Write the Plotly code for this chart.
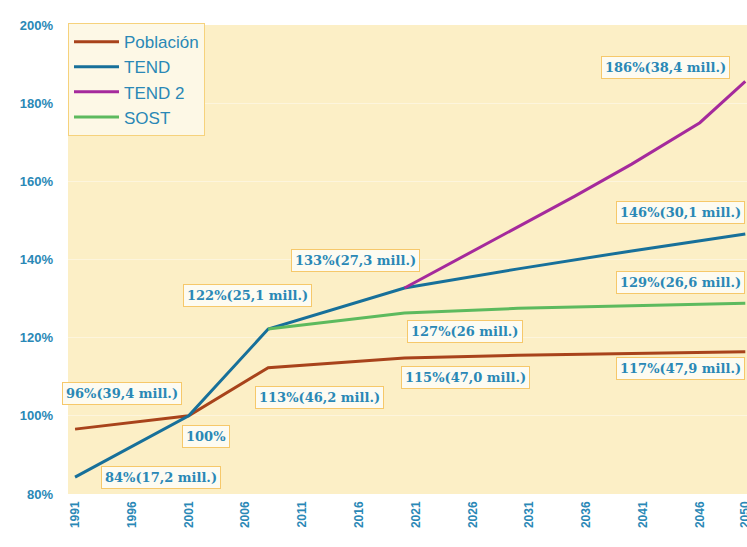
import plotly.graph_objects as go

# años y series (en % respecto a 2001)
years_pob = [1991, 2001, 2008, 2020, 2030, 2040, 2050]
poblacion = [96.6, 100, 112.3, 114.8, 115.5, 116.0, 116.4]

years_tend = [1991, 2001, 2008, 2020, 2030, 2040, 2050]
tend = [84.3, 100, 122.2, 132.7, 137.6, 142.2, 146.5]

years_tend2 = [2020, 2025, 2030, 2035, 2040, 2046, 2050]
tend2 = [132.7, 140.6, 148.3, 156.2, 164.4, 175.0, 185.6]

years_sost = [2008, 2020, 2030, 2040, 2050]
sost = [122.2, 126.3, 127.5, 128.2, 128.8]

tick_years = [1991, 1996, 2001, 2006, 2011, 2016, 2021, 2026, 2031, 2036, 2041, 2046, 2050]
y_ticks = [80, 100, 120, 140, 160, 180, 200]

# etiquetas: texto, año, valor
etiquetas = [
    ("96%(39,4 mill.)", 1995.1, 105.8),
    ("100%", 2002.5, 94.8),
    ("84%(17,2 mill.)", 1998.6, 84.3),
    ("113%(46,2 mill.)", 2012.5, 104.6),
    ("122%(25,1 mill.)", 2006.2, 130.9),
    ("133%(27,3 mill.)", 2015.7, 139.8),
    ("127%(26 mill.)", 2025.3, 121.7),
    ("115%(47,0 mill.)", 2025.4, 109.7),
    ("117%(47,9 mill.)", 2044.3, 112.2),
    ("129%(26,6 mill.)", 2044.3, 134.0),
    ("146%(30,1 mill.)", 2044.3, 152.1),
    ("186%(38,4 mill.)", 2043.0, 189.0),
]

azul_txt = "#2a88b6"

fig = go.Figure()
fig.add_trace(go.Scatter(x=years_pob, y=poblacion, name="Población", mode="lines",
                         line=dict(color="#a8431b", width=3)))
fig.add_trace(go.Scatter(x=years_tend, y=tend, name="TEND", mode="lines",
                         line=dict(color="#17709a", width=3)))
fig.add_trace(go.Scatter(x=years_tend2, y=tend2, name="TEND 2", mode="lines",
                         line=dict(color="#a52a9c", width=3)))
fig.add_trace(go.Scatter(x=years_sost, y=sost, name="SOST", mode="lines",
                         line=dict(color="#5dba5e", width=3)))

for txt, xx, yy in etiquetas:
    fig.add_annotation(
        x=xx, y=yy, text=txt, showarrow=False,
        font=dict(family="DejaVu Serif", size=13, color=azul_txt, weight="bold"),
        bgcolor="#fdfbf1", bordercolor="#f6c86a", borderwidth=1, borderpad=3,
    )

fig.update_layout(
    width=747, height=547,
    margin=dict(l=68, r=0, t=25, b=53, autoexpand=False),
    paper_bgcolor="white",
    plot_bgcolor="#fcefc6",
    showlegend=True,
    legend=dict(
        x=0, y=1.004, xanchor="left", yanchor="top",
        bgcolor="#fdf8e6", bordercolor="#f6d27c", borderwidth=1,
        font=dict(family="Liberation Sans", size=17, color=azul_txt),
        itemwidth=45, tracegroupgap=0,
    ),
    xaxis=dict(
        range=[1990.38, 2050.15],
        tickvals=tick_years,
        ticktext=[str(t) for t in tick_years],
        tickangle=-90,
        tickfont=dict(family="Liberation Sans", size=12, color=azul_txt, weight="bold"),
        showgrid=False, zeroline=False, ticks="", ticklabelstandoff=4,
        ticklabeloverflow="allow", automargin=False,
    ),
    yaxis=dict(
        range=[80, 200],
        tickvals=y_ticks,
        ticktext=[f"{v}%" for v in y_ticks],
        tickfont=dict(family="Liberation Sans", size=13, color=azul_txt, weight="bold"),
        showgrid=True, gridcolor="#fdf5dd", gridwidth=1,
        zeroline=False, ticks="", ticklabelstandoff=14, automargin=False,
    ),
)

# quitar el margen del body y las barras de desplazamiento
fig.write_html(
    "out.html",
    config={"displayModeBar": False},
    post_script="document.body.style.margin='0';"
                "document.documentElement.style.overflow='hidden';",
)
